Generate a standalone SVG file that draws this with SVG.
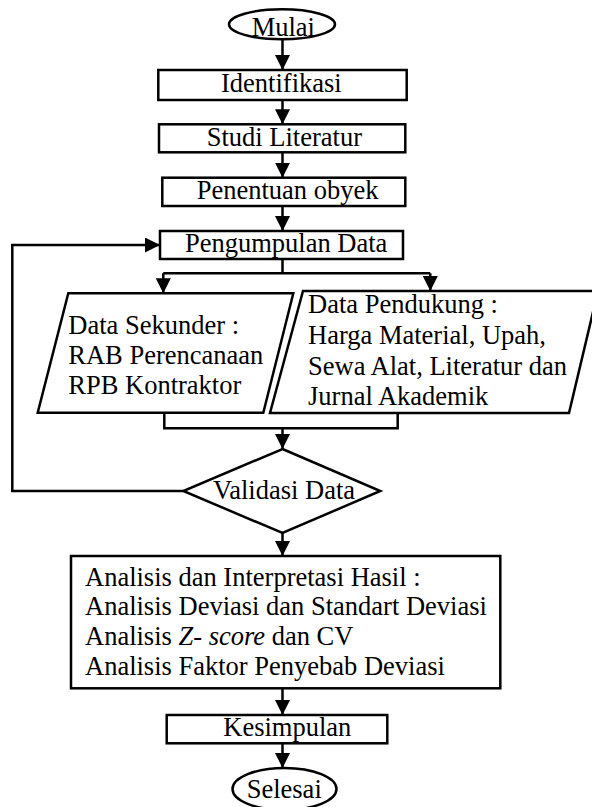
<svg xmlns="http://www.w3.org/2000/svg" width="592" height="807" viewBox="0 0 592 807">
<defs>
<marker id="ah" markerUnits="userSpaceOnUse" markerWidth="15" markerHeight="15" viewBox="0 0 15 15" refX="15" refY="7.5" orient="auto">
<path d="M0,0 L15,7.5 L0,15 z" fill="#000"/>
</marker>
<style>
.s{fill:#fff;stroke:#000;stroke-width:2.5}
.c{fill:none;stroke:#000;stroke-width:2.5}
.a{marker-end:url(#ah)}
.t{font-family:'Liberation Serif','Times New Roman','DejaVu Serif',serif;font-size:26.5px;fill:#000}
.i{font-style:italic}
</style>
</defs>
<rect width="592" height="807" fill="#fff"/>
<g id="connectors">
<path class="c a" d="M282.5,39.5 V70"/>
<path class="c a" d="M282.5,100 V124.3"/>
<path class="c a" d="M282.5,152.3 V177.7"/>
<path class="c a" d="M282.5,206 V231"/>
<path class="c" d="M282.5,259 V273.3 M163.3,273.3 H430.3"/>
<path class="c a" d="M163.3,273.3 V293.3"/>
<path class="c a" d="M430.3,273.3 V291"/>
<path class="c" d="M164.3,413 V428.3 H397.7 V413"/>
<path class="c a" d="M282.5,428.3 V449"/>
<path class="c a" d="M183.3,491 H12.3 V245 H160"/>
<path class="c a" d="M282.5,533 V556"/>
<path class="c a" d="M282.5,688.3 V715"/>
<path class="c a" d="M282.5,743.3 V768"/>
</g>
<g class="t" font-family="Liberation Serif, Times New Roman, serif">
<g id="mulai">
<ellipse class="s" cx="282" cy="24.3" rx="53" ry="15"/>
<text x="251.7" y="36">Mulai</text>
</g>
<g id="identifikasi">
<rect class="s" x="158.3" y="70" width="248.4" height="30"/>
<text x="221" y="92">Identifikasi</text>
</g>
<g id="studi">
<rect class="s" x="159" y="124.3" width="246.3" height="28"/>
<text x="206.7" y="145.7">Studi Literatur</text>
</g>
<g id="penentuan">
<rect class="s" x="162.3" y="177.7" width="243" height="28.3"/>
<text x="196.7" y="199.3">Penentuan obyek</text>
</g>
<g id="pengumpulan">
<rect class="s" x="160" y="231" width="243" height="28"/>
<text x="185" y="251.7">Pengumpulan Data</text>
</g>
<g id="sekunder">
<polygon class="s" points="68.3,293.3 293.3,293.3 263.3,412.7 37.7,412.7"/>
<text x="68.3" y="334">Data Sekunder :</text>
<text x="68.3" y="364">RAB Perencanaan</text>
<text x="68.3" y="394">RPB Kontraktor</text>
</g>
<g id="pendukung">
<polygon class="s" points="303,291 598,291 569,413 270,413"/>
<text x="308" y="313.3">Data Pendukung :</text>
<text x="308" y="344">Harga Material, Upah,</text>
<text x="308" y="375">Sewa Alat, Literatur dan</text>
<text x="308" y="405">Jurnal Akademik</text>
</g>
<g id="validasi">
<polygon class="s" points="282.5,449 380.3,491 282.5,533 183.3,491"/>
<text x="213" y="499">Validasi Data</text>
</g>
<g id="analisis">
<rect class="s" x="71" y="556" width="429.3" height="132.3"/>
<text x="85" y="586">Analisis dan Interpretasi Hasil :</text>
<text x="85" y="615">Analisis Deviasi dan Standart Deviasi</text>
<text x="85" y="645">Analisis <tspan class="i">Z- score</tspan> dan CV</text>
<text x="85" y="675">Analisis Faktor Penyebab Deviasi</text>
</g>
<g id="kesimpulan">
<rect class="s" x="166.7" y="715" width="220.6" height="28.3"/>
<text x="223.3" y="736">Kesimpulan</text>
</g>
<g id="selesai">
<ellipse class="s" cx="284.5" cy="789" rx="52" ry="21"/>
<text x="246.7" y="798.3">Selesai</text>
</g>
</g>
</svg>
